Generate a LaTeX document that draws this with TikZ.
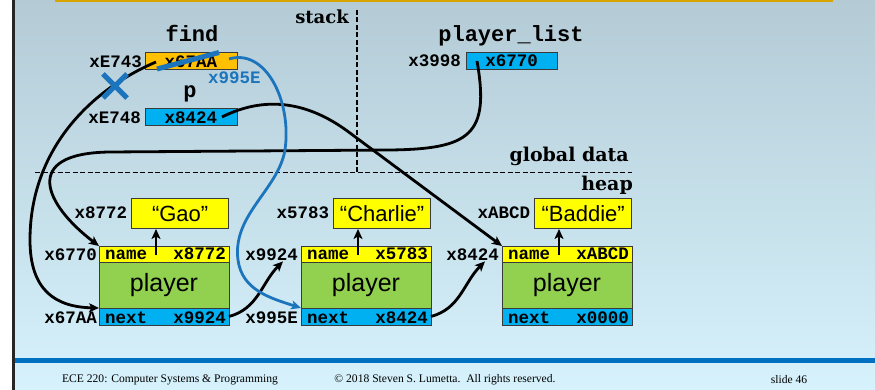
\documentclass[tikz,border=0pt]{standalone}
\usepackage{fontspec}
\setmainfont{DejaVu Serif}
\newfontfamily\monofam{Liberation Mono}
\newfontfamily\sansfam{Liberation Sans}
\newfontfamily\footfam{Liberation Serif}
\usetikzlibrary{arrows.meta}

\definecolor{bgtop}{HTML}{B4CBD6}
\definecolor{bgbot}{HTML}{D6F2FC}
\definecolor{gold}{HTML}{D9A300}
\definecolor{barblue}{HTML}{0070C0}
\definecolor{ptrblue}{HTML}{1C75BC}
\definecolor{cellcyan}{HTML}{00B0F0}
\definecolor{cellorange}{HTML}{FFC000}
\definecolor{cellyellow}{HTML}{FFFF00}
\definecolor{cellgreen}{HTML}{92D050}
\definecolor{cellline}{HTML}{3A3A3A}

\begin{document}
\begin{tikzpicture}[x=1pt,y=-1pt,
  addr/.style={font=\monofam\bfseries\fontsize{17.5}{18}\selectfont, inner sep=0pt},
  varname/.style={font=\monofam\bfseries\fontsize{22}{22}\selectfont, inner sep=0pt},
  region/.style={font=\bfseries\fontsize{19}{19}\selectfont, inner sep=0pt},
  cell/.style={draw=cellline, line width=0.7pt, inner sep=0pt, outer sep=0pt, minimum width=130pt},
  topcell/.style={draw=cellline, line width=0.7pt, inner sep=0pt, outer sep=0pt,
    minimum width=92pt, minimum height=17pt},
  strbox/.style={draw=cellline, line width=0.7pt, fill=cellyellow, inner sep=0pt,
    minimum width=97pt, minimum height=30pt, font=\sansfam\fontsize{22}{22}\selectfont},
  ptr/.style={line width=2.8pt, -{Stealth[length=10pt,width=9pt,inset=2.5pt]}},
  bptr/.style={ptr, draw=ptrblue},
  divider/.style={line width=1.1pt, dash pattern=on 5pt off 2.5pt},
  cross/.style={draw=ptrblue, line width=5pt},
  foot/.style={font=\footfam\fontsize{11.6}{13}\selectfont, inner sep=0pt}
]
\useasboundingbox (0,0) rectangle (875,390);

% slide background
\fill[white] (0,0) rectangle (13,390);
\shade[top color=bgtop, bottom color=bgbot] (13,0) rectangle (875,390);
\draw[line width=2.3pt, color=black!85] (13.6,0) -- (13.6,390);
\fill[gold] (55,0) rectangle (833,1.8);
\fill[barblue] (14.8,358) rectangle (875,363);

% footer
\node[foot] (ftl) at (170,380) {ECE 220: Computer Systems \& Programming};
\node[foot] (ftc) at (445,380) {© 2018 Steven S. Lumetta.\ \ All rights reserved.};
\node[foot] (ftr) at (789,380) {slide 46};

% memory regions
\coordinate (vtop) at (357,10);
\coordinate (vbot) at (357,172.5);
\coordinate (hleft) at (35,172.5);
\coordinate (hright) at (632,172.5);
\draw[divider] (vtop) -- (vbot);
\draw[divider] (hleft) -- (hright);
\node[region, anchor=base east, font=\bfseries\fontsize{18}{18}\selectfont] (rstack) at (349,24) {stack};
\node[region, anchor=base east] (rglobal) at (629,162) {global data};
\node[region, anchor=base east] (rheap) at (633,190.5) {heap};

% stack frame of find and the global player_list
\node[varname, anchor=base] (lfind) at (192,41.7) {find};
\node[topcell, fill=cellorange] (findbox) at (191,60.5) {};
\node[addr, anchor=base] (vfind) at ([yshift=1.5pt]findbox.south) {x67AA};
\node[addr, anchor=base east] (afind) at ([xshift=-3pt,yshift=1.5pt]findbox.south west) {xE743};

\node[varname, anchor=base] (lp) at (190,97.5) {p};
\node[topcell, fill=cellcyan] (pbox) at (191,117) {};
\node[addr, anchor=base] (vp) at ([yshift=1.5pt]pbox.south) {x8424};
\node[addr, anchor=base east] (ap) at ([xshift=-4pt,yshift=1.5pt]pbox.south west) {xE748};

\node[varname, anchor=base] (llist) at (511,42) {player\_list};
\node[topcell, fill=cellcyan, minimum width=91pt] (listbox) at (511.5,60.5) {};
\node[addr, anchor=base] (vlist) at ([yshift=2pt]listbox.south) {x6770};
\node[addr, anchor=base east] (alist) at ([xshift=-5pt,yshift=2pt]listbox.south west) {x3998};

% heap records
\foreach \id/\x/\na/\nx/\str in {1/99/x8772/x9924/Gao, 2/301/x5783/x8424/Charlie, 3/502/xABCD/x0000/Baddie}{
  \node[cell, fill=cellyellow, minimum height=16pt, anchor=north west] (nm\id) at (\x,246) {};
  \node[cell, fill=cellgreen, minimum height=46pt, anchor=north west,
        font=\sansfam\fontsize{25}{25}\selectfont] (bd\id) at (\x,262) {player};
  \node[cell, fill=cellcyan, minimum height=17pt, anchor=north west] (nx\id) at (\x,308) {};
  \node[addr, anchor=base west] (fn\id) at ([xshift=6pt,yshift=2.5pt]nm\id.south west) {name};
  \node[addr, anchor=base east] (fv\id) at ([xshift=-3pt,yshift=2.5pt]nm\id.south east) {\na};
  \node[addr, anchor=base west] (gn\id) at ([xshift=6pt,yshift=1.5pt]nx\id.south west) {next};
  \node[addr, anchor=base east] (gv\id) at ([xshift=-3pt,yshift=1.5pt]nx\id.south east) {\nx};
  \node[strbox, anchor=south east] (st\id) at (\x+130,229) {“\str”};
  \node[addr, anchor=base east] (sa\id) at ([xshift=-4pt,yshift=-5pt]st\id.west) {\na};
  \coordinate (up\id) at (\x+57,255);
  \draw[ptr] (up\id) -- (up\id |- st\id.south);
}

% addresses of the records and their next fields
\node[addr, anchor=base east] (a6770) at (97,260) {x6770};
\node[addr, anchor=base east] (a67AA) at (97,323.5) {x67AA};
\node[addr, anchor=base east] (a9924) at (298,260) {x9924};
\node[addr, anchor=base east] (a995E) at (298,323.5) {x995E};
\node[addr, anchor=base east] (a8424) at (499,260) {x8424};

% pointers
\coordinate (slist) at (477,61);
\coordinate (sfind) at (156,62);
\coordinate (sp) at (222,117);
\coordinate (snew) at (229,59);

\draw[ptr] (slist) .. controls (490,135) and (470,149) .. (390,150)
  -- (110,152) .. controls (20,153) and (45,205) .. (nm1.north west);
\draw[ptr] (sfind) .. controls (90,90) and (30,150) .. (30,240)
  .. controls (30,290) and (55,307) .. (bd1.south west);
\draw[ptr] (sp) .. controls (262,97) and (305,99) .. (350,133) -- (nm3.north west);
\draw[ptr] (nx1.east) to[out=15,in=-135] ([xshift=-15pt,yshift=-1pt]a9924.south east);
\draw[ptr] (nx2.east) to[out=15,in=-135] ([xshift=-14pt,yshift=-1pt]a8424.south east);

\draw[bptr] (snew) .. controls (265,48) and (292,100) .. (285,150)
  .. controls (278,190) and (232,215) .. (238,260)
  .. controls (242,290) and (270,298) .. (bd2.south west);

% the overwritten value of find
\draw[cross] (157,69) -- (219,52.5);
\draw[cross] (103,74) -- (127,98);
\draw[cross] (127,74) -- (103,98);
\node[addr, anchor=base west, text=ptrblue] (newval) at (208,84) {x995E};
\end{tikzpicture}
\end{document}
